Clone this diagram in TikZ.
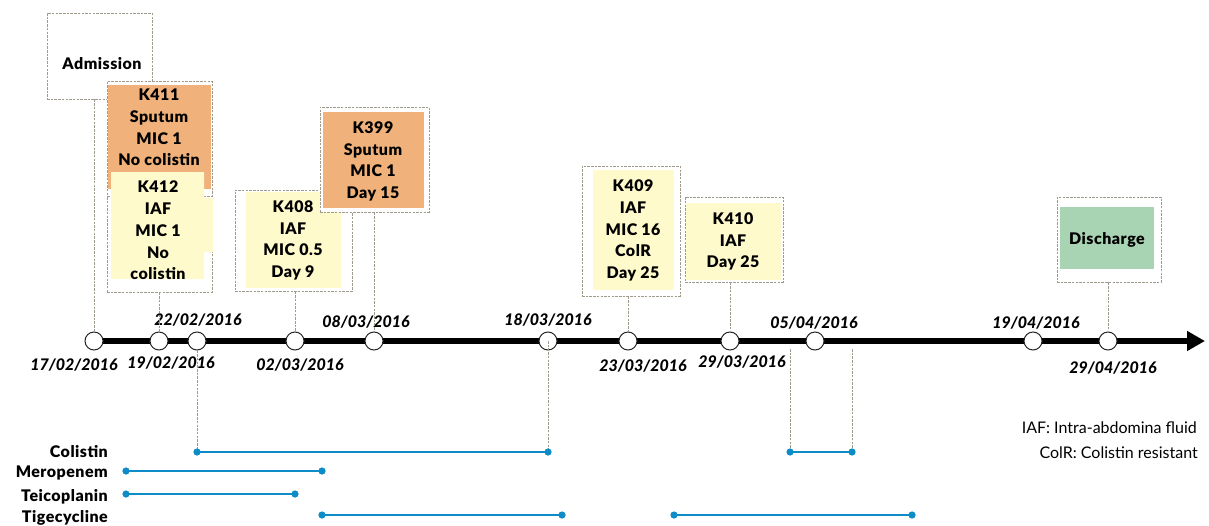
\documentclass[tikz,border=0pt]{standalone}
\usepackage{fontspec}
\setmainfont{Lato}[BoldFont={Lato Black}, BoldItalicFont={Lato Black Italic}, BoldFeatures={LetterSpace=3}]
\usetikzlibrary{arrows.meta}
\definecolor{dashgray}{RGB}{160,154,140}
\definecolor{sampleorange}{RGB}{240,177,122}
\definecolor{sampleyellow}{RGB}{255,250,204}
\definecolor{dischgreen}{RGB}{168,212,179}
\definecolor{drugblue}{RGB}{14,140,200}
\begin{document}
\begin{tikzpicture}[x=1pt, y=-1pt,
    frame/.style={draw=dashgray, line width=0.9pt, dash pattern=on 2.5pt off 1.2pt, fill=white, inner sep=0pt},
    boxtext/.style={align=center, font=\bfseries\fontsize{16}{21.7}\selectfont, inner sep=0pt},
    link/.style={draw=dashgray, line width=0.9pt, dash pattern=on 2.5pt off 1.2pt},
    tick/.style={circle, draw=black!85, line width=1pt, fill=white, minimum size=18pt, inner sep=0pt},
    datelab/.style={font=\bfseries\itshape\fontsize{16}{19}\selectfont, inner sep=0pt},
    drug/.style={font=\bfseries\fontsize{16}{19}\selectfont, inner sep=0pt, anchor=base east},
    drugbar/.style={draw=drugblue, line width=2.6pt, {Circle[length=7pt]}-{Circle[length=7pt]}, shorten <=-3.5pt, shorten >=-3.5pt},
    note/.style={font=\fontsize{16}{19}\selectfont, inner sep=0pt, anchor=base east}]
    \useasboundingbox (0,0) rectangle (1209,525);
    \node[frame, minimum width=105pt, minimum height=86pt] (adm) at (99.5,56) {};
    \node[boxtext] (admt) at (102,64) {Admission};
    \node[frame, minimum width=105pt, minimum height=115pt] (f411) at (159.5,138.5) {};
    \fill[sampleorange] (108,85) rectangle (211,189);
    \node[boxtext] (k411) at (159,127.5) {K411\\Sputum\\MIC 1\\No colistin};
    \node[frame, minimum width=105pt, minimum height=96pt] (f412) at (159.5,244) {};
    \fill[sampleyellow] (111,172) rectangle (204,279) (204,198) rectangle (213,252);
    \node[boxtext] (k412) at (158,230.5) {K412\\IAF\\MIC 1\\No\\colistin};
    \node[frame, minimum width=117pt, minimum height=101pt] (f408) at (293.5,240.5) {};
    \fill[sampleyellow] (246,192) rectangle (341,288);
    \node[boxtext] (k408) at (293,240.5) {K408\\IAF\\MIC 0.5\\Day 9};
    \node[frame, minimum width=109pt, minimum height=105pt] (f399) at (374.5,159.5) {};
    \fill[sampleorange] (323,112) rectangle (424,208);
    \node[boxtext] (k399) at (373,161.5) {K399\\Sputum\\MIC 1\\Day 15};
    \node[frame, minimum width=98pt, minimum height=130pt] (f409) at (631,231) {};
    \fill[sampleyellow] (593,170) rectangle (674,290);
    \node[boxtext] (k409) at (633,230.5) {K409\\IAF\\MIC 16\\ColR\\Day 25};
    \node[frame, minimum width=98pt, minimum height=85pt] (f410) at (734,239.5) {};
    \fill[sampleyellow] (686,203) rectangle (781,280);
    \node[boxtext] (k410) at (733,241.5) {K410\\IAF\\Day 25};
    \node[frame, minimum width=104pt, minimum height=85pt] (fdis) at (1109,239.5) {};
    \fill[dischgreen] (1060,207) rectangle (1154,269);
    \node[boxtext] (dis) at (1107,240) {Discharge};

    \coordinate (tstart) at (94,341);
    \coordinate (tend) at (1205,341);
    \draw[line width=6.5pt, -{Triangle[length=18pt,width=19pt]}] (tstart) -- (tend);
    \foreach \nm/\x in {1702/94, 1902/159, 2202/197, 0203/295, 0803/374, 1803/548, 2303/628, 2903/730, 0504/815, 1904/1033, 2904/1108}
      \node[tick] (t\nm) at (\x,341) {};
    \foreach \nm/\x/\y/\dt in {1702/74/365/{17/02/2016}, 1902/171/363/{19/02/2016}, 2202/198/320/{22/02/2016},
        0203/300/365/{02/03/2016}, 0803/366/322/{08/03/2016}, 1803/548/320/{18/03/2016}, 2303/643/366/{23/03/2016},
        2903/742/362/{29/03/2016}, 0504/814/323/{05/04/2016}, 1904/1036/323/{19/04/2016}, 2904/1113/368/{29/04/2016}}
      \node[datelab] (d\nm) at (\x,\y) {\dt};

    \draw[link] (t1702 |- adm.south) -- (t1702);
    \draw[link] (t1902 |- f412.south) -- (t1902);
    \draw[link] (t0203 |- f408.south) -- (t0203);
    \draw[link] (t0803 |- f399.south) -- (t0803);
    \draw[link] (t2303 |- f409.south) -- (t2303);
    \draw[link] (t2903 |- f410.south) -- (t2903);
    \draw[link] (t2904 |- fdis.south) -- (t2904);

    \coordinate (cola) at (t2202 |- 0,452);
    \coordinate (colb) at (t1803 |- 0,452);
    \coordinate (colc) at (790,452);
    \coordinate (cold) at (852,452);
    \draw[link] (t2202) -- (cola);
    \draw[link] (t1803.center) -- (colb);
    \draw[link] (colc |- 0,349) -- (colc);
    \draw[link] (cold |- 0,349) -- (cold);
    \draw[drugbar] (cola) -- (colb);
    \draw[drugbar] (colc) -- (cold);
    \foreach \a/\b/\y in {126/322/471, 126/295/494, 322/562/515, 674/912/515}
      \draw[drugbar] (\a,\y) -- (\b,\y);

    \node[drug] (lcol) at (108,457) {Colistin};
    \node[drug] (lmer) at (108,477) {Meropenem};
    \node[drug] (ltei) at (108,501) {Teicoplanin};
    \node[drug] (ltig) at (108,522) {Tigecycline};
    \node[note] (niaf) at (1197,433) {IAF: Intra-abdomina fluid};
    \node[note] (ncol) at (1198,458) {ColR: Colistin resistant};
\end{tikzpicture}
\end{document}
